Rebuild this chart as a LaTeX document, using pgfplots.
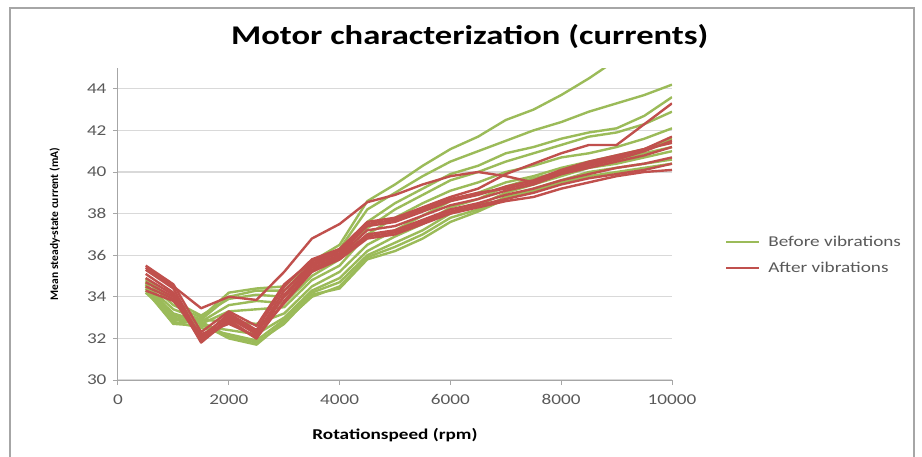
\documentclass[border=0pt]{standalone}
\usepackage{pgfplots}
\pgfplotsset{compat=1.18}
\usepackage{pgfplotstable}
\usepackage{fontspec}
\setmainfont{Carlito}[FakeStretch=1.28]
\newfontfamily\plainfont{Carlito}
\definecolor{gline}{HTML}{9BBB59}
\definecolor{rline}{HTML}{C0504D}
\definecolor{gridc}{HTML}{D9D9D9}
\definecolor{axc}{HTML}{A6A6A6}
\definecolor{tickc}{HTML}{595959}

\pgfplotstableread{
x     G1   G2   G3   G4   G5   G6   G7   G8   G9   G10  R1    R2   R3   R4   R5   R6   R7   R8
500   34.8 34.6 34.9 34.5 34.7 34.4 34.3 34.5 34.2 34.6 35.4  35.3 35.1 34.9 34.7 34.5 34.3 35.5
1000  33.6 33.4 33.8 33.2 32.9 32.7 32.7 32.8 33.0 33.1 34.5  34.4 34.2 34.1 34.0 33.9 33.8 34.6
1500  33.0 32.9 33.1 32.8 32.7 32.9 32.6 32.5 32.7 32.8 33.45 32.0 31.9 31.8 32.1 31.9 32.2 32.3
2000  34.2 34.0 33.9 33.6 33.3 32.8 32.4 32.2 32.0 32.1 34.0  33.2 33.0 32.9 33.1 32.8 32.7 33.3
2500  34.4 34.3 34.1 33.8 33.4 32.7 32.2 31.9 31.7 31.8 33.85 32.4 32.2 32.0 32.3 32.0 32.1 32.6
3000  34.5 34.3 34.0 33.7 33.5 33.2 33.0 32.9 32.8 32.7 35.2  34.5 34.3 34.1 34.0 33.8 33.7 34.6
3500  35.7 35.5 35.2 35.0 34.8 34.5 34.3 34.2 34.0 34.1 36.8  35.8 35.6 35.5 35.4 35.3 35.2 35.7
4000  36.5 36.3 36.0 35.8 35.5 35.2 34.9 34.7 34.5 34.4 37.5  36.3 36.1 36.0 35.9 35.8 35.8 36.2
4500  38.6 38.2 37.6 37.3 37.0 36.5 36.2 36.0 35.9 35.8 38.55 37.6 37.4 37.2 37.0 36.9 36.8 37.5
5000  39.4 39.0 38.5 38.2 37.8 37.2 36.9 36.6 36.4 36.2 38.9  37.8 37.6 37.4 37.2 37.1 37.0 37.7
5500  40.3 39.8 39.2 38.9 38.5 37.9 37.5 37.2 37.0 36.8 39.4  38.3 38.1 37.9 37.7 37.6 37.5 38.2
6000  41.1 40.5 39.9 39.6 39.1 38.6 38.3 38.0 37.8 37.6 39.8  38.8 38.6 38.4 38.2 38.1 38.0 38.7
6500  41.7 41.0 40.3 40.0 39.5 39.0 38.7 38.4 38.2 38.1 40.0  39.2 38.9 38.7 38.5 38.4 38.3 39.0
7000  42.5 41.5 40.9 40.5 40.0 39.5 39.3 39.0 38.8 38.7 39.8  39.9 39.3 39.1 38.9 38.7 38.6 39.2
7500  43.0 42.0 41.2 40.9 40.3 39.8 39.7 39.4 39.2 39.1 39.5  40.4 39.6 39.4 39.2 39.0 38.8 39.5
8000  43.7 42.4 41.6 41.3 40.7 40.2 40.0 39.8 39.6 39.5 40.0  40.9 40.1 39.9 39.6 39.4 39.2 39.9
8500  44.5 42.9 41.9 41.7 40.9 40.5 40.4 40.2 40.0 39.8 40.4  41.3 40.5 40.2 39.9 39.7 39.5 40.3
9000  45.4 43.3 42.1 41.9 41.2 40.8 40.6 40.4 40.2 40.0 40.7  41.3 40.8 40.5 40.2 39.9 39.8 40.6
9500  46.2 43.7 42.7 42.3 41.6 41.1 40.9 40.7 40.4 40.2 41.1  42.3 41.1 40.8 40.4 40.1 40.0 41.0
10000 47.0 44.2 43.6 42.9 42.1 41.6 41.2 41.0 40.6 40.4 41.7  43.3 41.4 41.2 40.7 40.4 40.1 41.5
}\motor

\begin{document}
\begin{tikzpicture}
\useasboundingbox (-118pt,-76pt) rectangle (804pt,380pt);
\draw[axc, line width=1.5pt] (-108pt,-80pt) -- (-108pt,372pt) -- (796pt,372pt) -- (796pt,-80pt);
\begin{axis}[
  scale only axis, width=554pt, height=312pt,
  xmin=0, xmax=10000, ymin=30, ymax=45,
  xtick={0,2000,...,10000}, ytick={30,32,...,44},
  axis x line=bottom, axis y line=left,
  axis line style={axc, line width=1pt, -},
  ymajorgrids, grid style={gridc, line width=1.3pt},
  tick style={axc, line width=1pt}, tick align=outside, major tick length=5pt,
  scaled x ticks=false,
  xticklabel style={/pgf/number format/1000 sep={}, yshift=-6pt},
  yticklabel style={xshift=-3pt},
  /pgf/number format/assume math mode=true,
  ticklabel style={font=\fontsize{15}{17}\selectfont, text=tickc},
  xlabel={Rotationspeed (rpm)}, ylabel={Mean steady-state current (mA)},
  xlabel style={at={(axis description cs:0.5,0)}, yshift=-55pt, anchor=center, font=\bfseries\fontsize{15}{17}\selectfont},
  ylabel style={at={(axis description cs:-0.114,0.5)}, anchor=center, font=\plainfont\bfseries\fontsize{11.5}{14}\selectfont},
  title={Motor characterization (currents)},
  title style={at={(axis description cs:0.635,1)}, yshift=25pt, anchor=center, font=\bfseries\fontsize{27}{30}\selectfont},
  legend style={draw=none, fill=none, at={(axis description cs:1.095,0.40)}, anchor=west,
    font=\fontsize{15}{18}\selectfont, text=tickc, row sep=10pt, inner sep=0pt},
  legend cell align=left,
  legend image code/.code={\draw[#1, line width=2.5pt] (0pt,0pt) -- (33pt,0pt);},
  every axis plot/.append style={line width=2.4pt, line join=round, no markers},
]
\addplot[gline] table[x=x, y=G1] {\motor};
\addlegendentry{\hspace{6pt}Before vibrations}
\foreach \c in {G2,G3,G4,G5,G6,G7,G8,G9,G10}{
  \addplot[gline, forget plot] table[x=x, y=\c] {\motor};
}
\addplot[rline] table[x=x, y=R1] {\motor};
\addlegendentry{\hspace{6pt}After vibrations}
\foreach \c in {R2,R3,R4,R5,R6,R7,R8}{
  \addplot[rline, forget plot] table[x=x, y=\c] {\motor};
}
\end{axis}
\end{tikzpicture}
\end{document}
